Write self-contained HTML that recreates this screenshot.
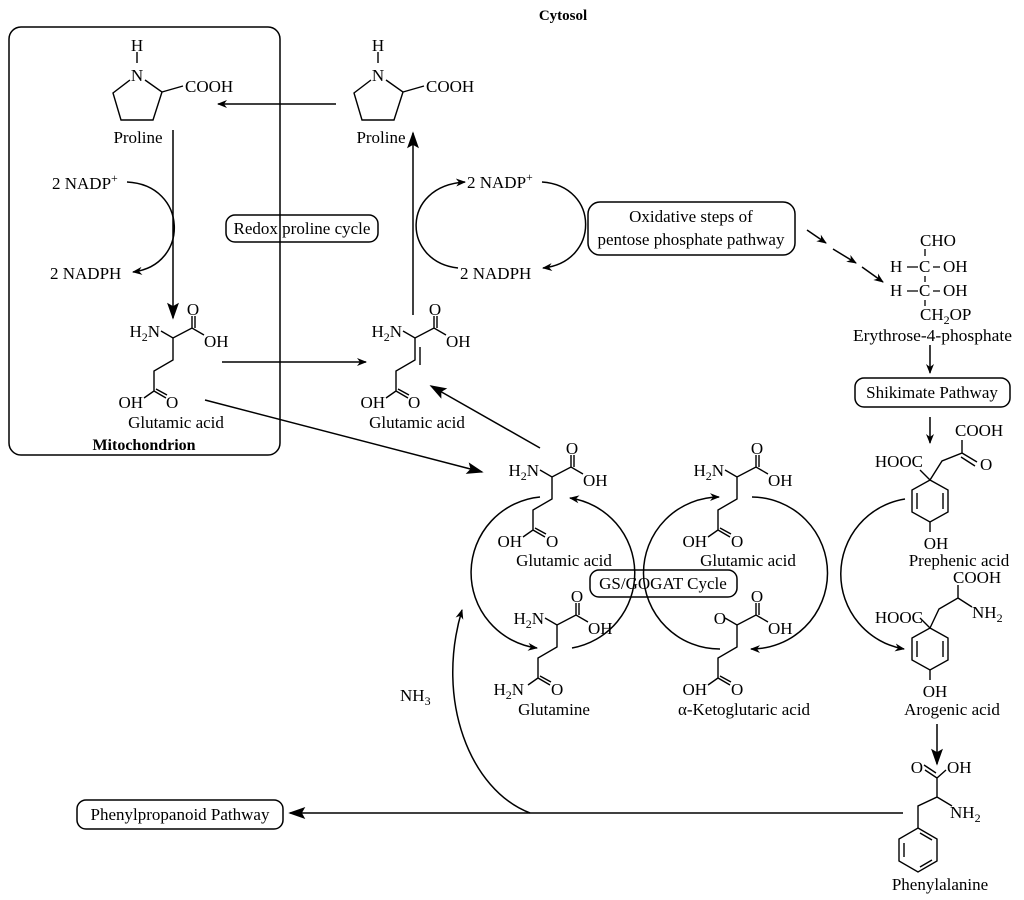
<!DOCTYPE html>
<html><head><meta charset="utf-8"><style>
html,body{margin:0;padding:0;background:#fff;}
svg{display:block;font-family:"Liberation Serif",serif;}
text{font-size:17px;fill:#000;}
.s{font-size:12px;}
</style></head><body>
<svg width="1024" height="900" viewBox="0 0 1024 900" xmlns="http://www.w3.org/2000/svg">
<defs>
<marker id="a" viewBox="0 0 10 10" refX="9" refY="5" markerWidth="10" markerHeight="10" markerUnits="userSpaceOnUse" orient="auto"><path d="M0,1 L10,5 L0,9 L3,5z" fill="#000"/></marker>
<marker id="b" viewBox="0 0 10 10" refX="9" refY="5" markerWidth="17" markerHeight="17" markerUnits="userSpaceOnUse" orient="auto"><path d="M0,1.5 L10,5 L0,8.5 L2,5z" fill="#000"/></marker>
<g id="glu" fill="none" stroke="#000" stroke-width="1.4">
<path d="M-12,-7 L0,0 L19,-10 L31,-3 M19,-10 L19,-22 M22,-10 L22,-22 M0,0 L0,22 L-19,33 L-19,53 L-29,60 M-19,53 L-7,60 M-17,51 L-6,57"/>
</g>
<g id="ring6" fill="none" stroke="#000" stroke-width="1.4">
<path d="M0,0 L18,10 L18,32 L0,42 L-18,32 L-18,10 Z M13,13 L13,29 M-13,13 L-13,29"/>
</g>
</defs>
<g stroke="#000" stroke-width="1.5" fill="none">
<rect x="9" y="27" width="271" height="428" rx="12"/>
<rect x="226" y="215" width="152" height="27" rx="9"/>
<rect x="588" y="202" width="207" height="53" rx="12"/>
<rect x="855" y="378" width="155" height="29" rx="9"/>
<rect x="590" y="570" width="147" height="27" rx="9"/>
<rect x="77" y="800" width="206" height="29" rx="9"/>
</g>
<text x="563" y="20" text-anchor="middle" font-weight="bold" style="font-size:15px">Cytosol</text>
<text x="144" y="450" text-anchor="middle" font-weight="bold" style="font-size:16px">Mitochondrion</text>
<text x="302" y="234" text-anchor="middle">Redox proline cycle</text>
<text x="691" y="222" text-anchor="middle">Oxidative steps of</text>
<text x="691" y="245" text-anchor="middle">pentose phosphate pathway</text>
<text x="932" y="398" text-anchor="middle">Shikimate Pathway</text>
<text x="663" y="589" text-anchor="middle">GS/GOGAT Cycle</text>
<text x="180" y="820" text-anchor="middle">Phenylpropanoid Pathway</text>

<!-- prolines -->
<g fill="none" stroke="#000" stroke-width="1.4">
<path d="M137,52 L137,63 M130,80 L113,93 L121,120 L153,120 L162,92 L145,80 M162,92 L183,86"/>
<path d="M378,52 L378,63 M371,80 L354,93 L362,120 L394,120 L403,92 L386,80 M403,92 L424,86"/>
</g>
<text x="137" y="51" text-anchor="middle">H</text><text x="137" y="81" text-anchor="middle">N</text>
<text x="185" y="92">COOH</text><text x="138" y="143" text-anchor="middle">Proline</text>
<text x="378" y="51" text-anchor="middle">H</text><text x="378" y="81" text-anchor="middle">N</text>
<text x="426" y="92">COOH</text><text x="381" y="143" text-anchor="middle">Proline</text>

<use href="#glu" x="173" y="338"/>
<use href="#glu" x="415" y="338"/>
<path d="M420,347 L420,365" stroke="#000" stroke-width="1.4"/>
<use href="#glu" x="552" y="477"/>
<use href="#glu" x="737" y="477"/>
<use href="#glu" x="557" y="625"/>
<use href="#glu" x="737" y="625"/>

<text x="160" y="337" text-anchor="end">H<tspan class="s" dy="4">2</tspan><tspan dy="-4">N</tspan></text>
<text x="193" y="315" text-anchor="middle">O</text><text x="204" y="347">OH</text>
<text x="143" y="408" text-anchor="end">OH</text><text x="166" y="408">O</text>
<text x="176" y="428" text-anchor="middle">Glutamic acid</text>

<text x="402" y="337" text-anchor="end">H<tspan class="s" dy="4">2</tspan><tspan dy="-4">N</tspan></text>
<text x="435" y="315" text-anchor="middle">O</text><text x="446" y="347">OH</text>
<text x="385" y="408" text-anchor="end">OH</text><text x="408" y="408">O</text>
<text x="417" y="428" text-anchor="middle">Glutamic acid</text>

<text x="539" y="476" text-anchor="end">H<tspan class="s" dy="4">2</tspan><tspan dy="-4">N</tspan></text>
<text x="572" y="454" text-anchor="middle">O</text><text x="583" y="486">OH</text>
<text x="522" y="547" text-anchor="end">OH</text><text x="546" y="547">O</text>
<text x="564" y="566" text-anchor="middle">Glutamic acid</text>

<text x="724" y="476" text-anchor="end">H<tspan class="s" dy="4">2</tspan><tspan dy="-4">N</tspan></text>
<text x="757" y="454" text-anchor="middle">O</text><text x="768" y="486">OH</text>
<text x="707" y="547" text-anchor="end">OH</text><text x="731" y="547">O</text>
<text x="748" y="566" text-anchor="middle">Glutamic acid</text>

<text x="544" y="624" text-anchor="end">H<tspan class="s" dy="4">2</tspan><tspan dy="-4">N</tspan></text>
<text x="577" y="602" text-anchor="middle">O</text><text x="588" y="634">OH</text>
<text x="524" y="695" text-anchor="end">H<tspan class="s" dy="4">2</tspan><tspan dy="-4">N</tspan></text><text x="551" y="695">O</text>
<text x="554" y="715" text-anchor="middle">Glutamine</text>

<text x="726" y="624" text-anchor="end">O</text>
<text x="757" y="602" text-anchor="middle">O</text><text x="768" y="634">OH</text>
<text x="707" y="695" text-anchor="end">OH</text><text x="731" y="695">O</text>
<text x="744" y="715" text-anchor="middle">α-Ketoglutaric acid</text>

<text x="52" y="189">2 NADP<tspan class="s" dy="-7">+</tspan></text>
<text x="50" y="279">2 NADPH</text>
<text x="467" y="188">2 NADP<tspan class="s" dy="-7">+</tspan></text>
<text x="460" y="279">2 NADPH</text>

<g fill="none" stroke="#000" stroke-width="1.5">
<path d="M173,130 L173,318" marker-end="url(#b)"/>
<path d="M127,182 C188,185 190,265 133,272" marker-end="url(#a)"/>
<path d="M336,104 L218,104" marker-end="url(#a)"/>
<path d="M413,315 L413,133" marker-end="url(#b)"/>
<path d="M458,268 C402,262 400,186 465,182" marker-end="url(#a)"/>
<path d="M542,182 C600,186 600,262 543,268" marker-end="url(#a)"/>
<path d="M807,230 L826,243" marker-end="url(#a)"/>
<path d="M833,249 L856,263" marker-end="url(#a)"/>
<path d="M862,267 L883,282" marker-end="url(#a)"/>
<path d="M222,362 L366,362" marker-end="url(#a)"/>
<path d="M205,400 L482,472" marker-end="url(#b)"/>
<path d="M540,448 L431,386" marker-end="url(#b)"/>
<path d="M930,345 L930,373" marker-end="url(#a)"/>
<path d="M930,417 L930,443" marker-end="url(#a)"/>
<path d="M937,724 L937,764" marker-end="url(#b)"/>
<path d="M903,813 L290,813" marker-end="url(#b)"/>
<path d="M530,813 C470,790 435,700 462,610" marker-end="url(#a)"/>
<path d="M540,497 A76,76 0 0 0 537,648" marker-end="url(#a)"/>
<path d="M572,648 A76,76 0 0 0 570,498" marker-end="url(#a)"/>
<path d="M720,649 A76,76 0 0 1 719,497" marker-end="url(#a)"/>
<path d="M752,497 A76,76 0 0 1 751,649" marker-end="url(#a)"/>
<path d="M905,499 A76,76 0 0 0 904,649" marker-end="url(#a)"/>
</g>
<text x="400" y="701">NH<tspan class="s" dy="4">3</tspan></text>

<!-- Erythrose -->
<g fill="none" stroke="#000" stroke-width="1.3">
<path d="M925,249 L925,256 M925,276 L925,282 M925,300 L925,306 M907,267 L918,267 M933,267 L940,267 M907,291 L918,291 M933,291 L940,291"/>
</g>
<text x="920" y="246">CHO</text>
<text x="890" y="272">H</text><text x="919" y="272">C</text><text x="943" y="272">OH</text>
<text x="890" y="296">H</text><text x="919" y="296">C</text><text x="943" y="296">OH</text>
<text x="920" y="320">CH<tspan class="s" dy="4">2</tspan><tspan dy="-4">OP</tspan></text>
<text x="853" y="341" textLength="159" lengthAdjust="spacingAndGlyphs">Erythrose-4-phosphate</text>

<!-- Prephenic / Arogenic -->
<use href="#ring6" x="930" y="480"/>
<use href="#ring6" x="930" y="628"/>
<g fill="none" stroke="#000" stroke-width="1.4">
<path d="M930,480 L920,470 M930,480 L942,461 L962,453 L962,440 M962,453 L977,462 M961,457 L975,466 M930,522 L930,532"/>
<path d="M930,628 L920,618 M930,628 L939,609 L958,598 L958,585 M958,598 L972,607 M930,670 L930,680"/>
</g>
<text x="923" y="467" text-anchor="end">HOOC</text>
<text x="955" y="436">COOH</text>
<text x="980" y="470">O</text>
<text x="936" y="549" text-anchor="middle">OH</text>
<text x="959" y="566" text-anchor="middle">Prephenic acid</text>
<text x="923" y="623" text-anchor="end">HOOC</text>
<text x="953" y="583">COOH</text>
<text x="972" y="618">NH<tspan class="s" dy="4">2</tspan></text>
<text x="935" y="697" text-anchor="middle">OH</text>
<text x="952" y="715" text-anchor="middle">Arogenic acid</text>

<!-- Phenylalanine -->
<g fill="none" stroke="#000" stroke-width="1.4">
<path d="M925,770 L937,778 L937,797 L918,806 L918,828 M937,797 L952,806 M924,765 L936,773 M937,778 L946,770"/>
<path d="M918,828 L937,839 L937,861 L918,872 L899,861 L899,839 Z M904,843 L904,857 M920,867 L932,860 M920,833 L932,840"/>
</g>
<text x="923" y="773" text-anchor="end">O</text>
<text x="947" y="773">OH</text>
<text x="950" y="818">NH<tspan class="s" dy="4">2</tspan></text>
<text x="940" y="890" text-anchor="middle">Phenylalanine</text>
</svg>
</body></html>
